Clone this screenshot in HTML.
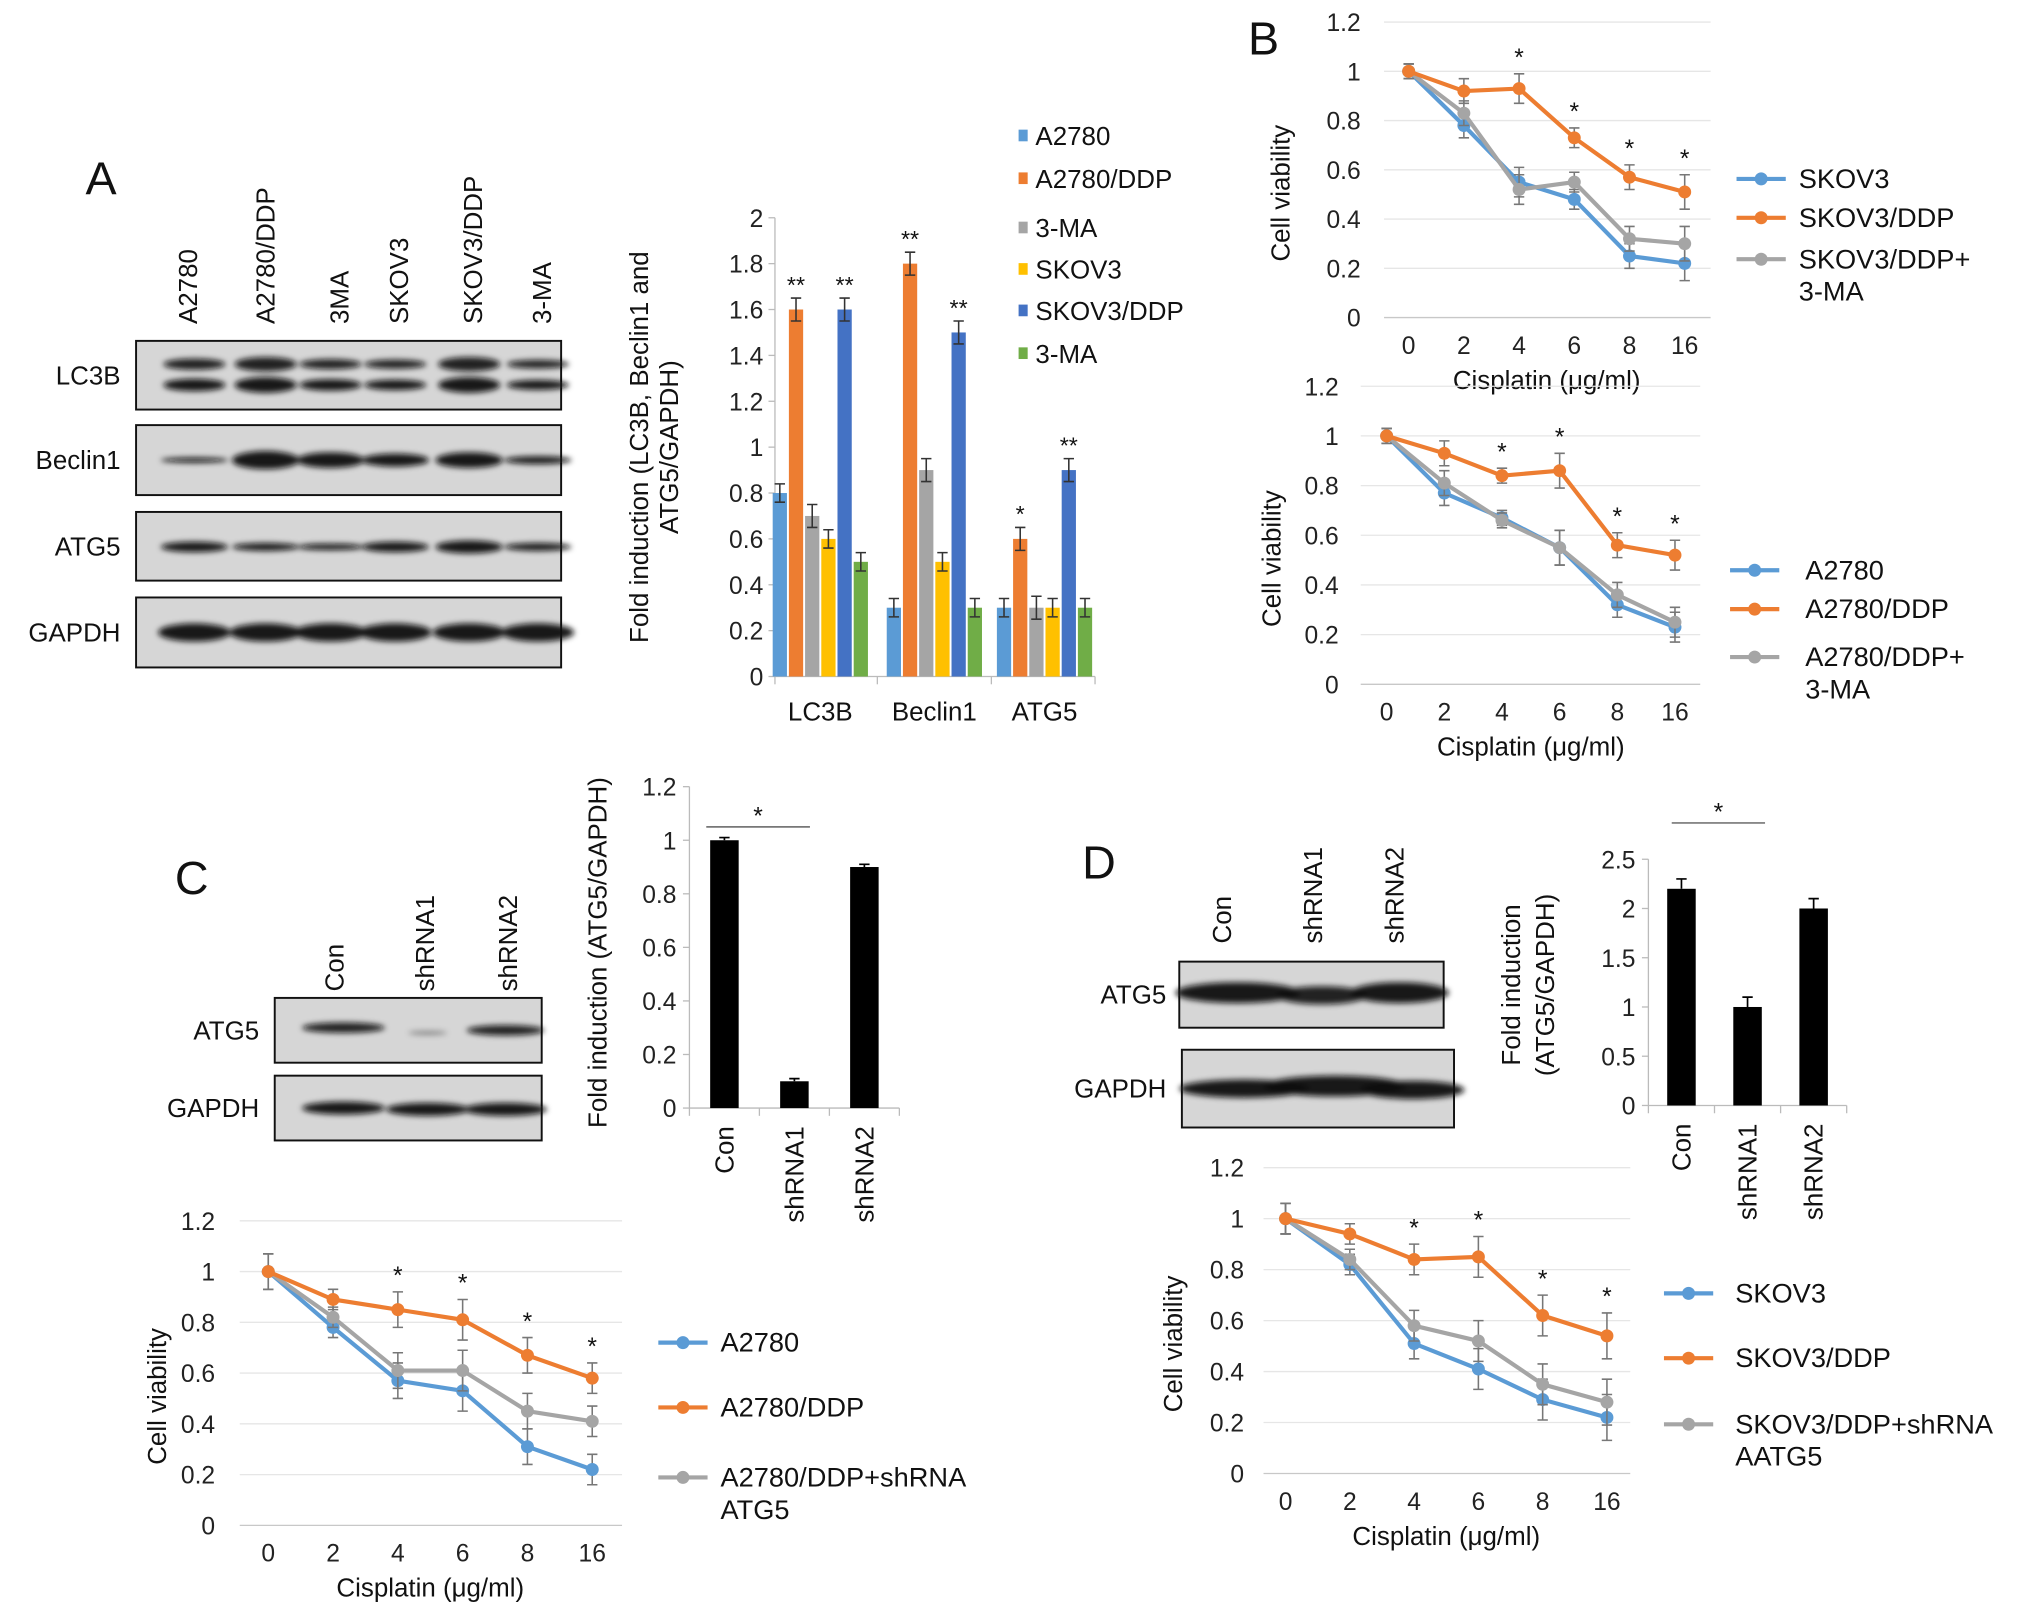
<!DOCTYPE html>
<html><head><meta charset="utf-8"><style>
html,body{margin:0;padding:0;background:#fff}
svg{display:block;font-family:"Liberation Sans",sans-serif}
</style></head><body>
<svg id="fig" width="2032" height="1620" viewBox="0 0 1568 1250" xmlns="http://www.w3.org/2000/svg">
<defs>
<filter id="blur2" x="-20%" y="-50%" width="140%" height="200%"><feGaussianBlur stdDeviation="2.2"/></filter>
</defs>
<g id="static"></g>
<g id="charts"></g>
</svg>
<script>
// ---------- Panel A bar chart data ----------
const aCategories = ["LC3B","Beclin1","ATG5"];
const aSeriesNames = ["A2780","A2780/DDP","3-MA","SKOV3","SKOV3/DDP","3-MA"];
const aA2780 = [0.8,0.3,0.3];
const aA2780DDP = [1.6,1.8,0.6];
const a3MA1 = [0.7,0.9,0.3];
const aSKOV3 = [0.6,0.5,0.3];
const aSKOV3DDP = [1.6,1.5,0.9];
const a3MA2 = [0.5,0.3,0.3];
const aErr = [0.04,0.05,0.05,0.04,0.05,0.04];
const aStars = [["","**","","","**",""],["","**","","","**",""],["","*","","","**",""]];
const aTicks = [0,0.2,0.4,0.6,0.8,1,1.2,1.4,1.6,1.8,2];
const aTickLabels = ["0","0.2","0.4","0.6","0.8","1","1.2","1.4","1.6","1.8","2"];
// ---------- Line chart data ----------
const doseLabels = ["0","2","4","6","8","16"];
const lineTicks = [0,0.2,0.4,0.6,0.8,1,1.2];
const lineTickLabels = ["0","0.2","0.4","0.6","0.8","1","1.2"];
const bTopSKOV3 = [1,0.78,0.55,0.48,0.25,0.22];
const bTopDDP = [1,0.92,0.93,0.73,0.57,0.51];
const bTop3MA = [1,0.83,0.52,0.55,0.32,0.30];
const bTopErr = [0.03,0.05,0.06,0.04,0.05,0.07];
const bTopStars = ["","","*","*","*","*"];
const bBotA2780 = [1,0.77,0.67,0.55,0.32,0.23];
const bBotDDP = [1,0.93,0.84,0.86,0.56,0.52];
const bBot3MA = [1,0.81,0.66,0.55,0.36,0.25];
const bBotErr = [0.03,0.05,0.03,0.07,0.05,0.06];
const bBotStars = ["","","*","*","*","*"];
const cA2780 = [1,0.78,0.57,0.53,0.31,0.22];
const cDDP = [1,0.89,0.85,0.81,0.67,0.58];
const cSh = [1,0.82,0.61,0.61,0.45,0.41];
const cErr = [0.07,0.04,0.07,0.08,0.07,0.06];
const cStars = ["","","*","*","*","*"];
const dSKOV3 = [1,0.82,0.51,0.41,0.29,0.22];
const dDDP = [1,0.94,0.84,0.85,0.62,0.54];
const dSh = [1,0.84,0.58,0.52,0.35,0.28];
const dErr = [0.06,0.04,0.06,0.08,0.08,0.09];
const dStars = ["","","*","*","*","*"];
// ---------- Knockdown bar data ----------
const kdCategories = ["Con","shRNA1","shRNA2"];
const cBarValues = [1,0.1,0.9];
const cBarErr = [0.01,0.01,0.01];
const cBarTicks = [0,0.2,0.4,0.6,0.8,1,1.2];
const cBarTickLabels = ["0","0.2","0.4","0.6","0.8","1","1.2"];
const dBarValues = [2.2,1.0,2.0];
const dBarErr = [0.1,0.1,0.1];
const dBarTicks = [0,0.5,1,1.5,2,2.5];
const dBarTickLabels = ["0","0.5","1","1.5","2","2.5"];

const NS="http://www.w3.org/2000/svg";
const root=document.getElementById('charts');
const stat=document.getElementById('static');
function mk(tag,attrs,parent,text){const e=document.createElementNS(NS,tag);for(const k in attrs)e.setAttribute(k,attrs[k]);if(text!==undefined)e.textContent=text;(parent||root).appendChild(e);return e;}
function grp(name,parent){const g=mk('g',{},parent);


return g;}

// ---------- Static: panel letters ----------
[["A",78,150],["B",975,42],["C",148,690],["D",848,678]].forEach(l=>{
 const t=mk('text',{x:l[1],y:l[2],'font-size':36,'text-anchor':'middle',fill:'#111'},stat,l[0]);
 
 
});

// ---------- Blots ----------
function blot(name,label,x,y,w,h,bands,labelX){
 const g=grp(name,stat);
 mk('rect',{x:x,y:y,width:w,height:h,fill:'#d6d6d6',stroke:'#111','stroke-width':1.5},g);
 const inner=mk('g',{filter:'url(#blur2)'},g);
 bands.forEach(b=>mk('ellipse',{cx:b[0],cy:b[1],rx:b[2],ry:b[3],fill:'#111','fill-opacity':b[4]},inner));
 const t=mk('text',{x:labelX,y:y+h/2+7,'font-size':20,'text-anchor':'end',fill:'#111'},g,label);
 
 
}
function colLabels(name,labels,xs,bottom){
 const g=grp(name,stat);
 labels.forEach((l,i)=>{const t=mk('text',{x:0,y:0,transform:`translate(${xs[i]+7},${bottom}) rotate(-90)`,'font-size':20,fill:'#111'},g,l);
 
 });
}
colLabels('panel-a-lane-labels',["A2780","A2780/DDP","3MA","SKOV3","SKOV3/DDP","3-MA"],[145,205,262,308,365,418],250);
const laneA=[150,205,255,305,362,415];
blot('blot-a-lc3b','LC3B',105,263,328,53,laneA.flatMap((c,i)=>{const s=[0.7,1,0.6,0.5,1,0.45][i];return [[c,281,24,4*s+1.5,0.9],[c,297,24,4*s+2,0.95]];}),93);
blot('blot-a-beclin1','Beclin1',105,328,328,54,laneA.map((c,i)=>[c,355,26,[2,7,6,5,6,3][i],0.95]),93);
blot('blot-a-atg5','ATG5',105,395,328,53,laneA.map((c,i)=>[c,422,26,[4,3,2.5,4,5,3][i],0.95]),93);
blot('blot-a-gapdh','GAPDH',105,461,328,54,laneA.map((c,i)=>[c,488,28,7,0.95]),93);

colLabels('panel-c-lane-labels',["Con","shRNA1","shRNA2"],[258,328,392],765);
blot('blot-c-atg5','ATG5',212,770,206,50,[[265,793,32,4,0.9],[330,797,15,1.5,0.4],[390,795,30,4,0.9]],200);
blot('blot-c-gapdh','GAPDH',212,830,206,50,[[265,855,32,5,0.95],[330,856,32,5,0.95],[390,856,32,5,0.95]],200);

colLabels('panel-d-lane-labels',["Con","shRNA1","shRNA2"],[943,1013,1076],728);
blot('blot-d-atg5','ATG5',910,742,204,51,[[955,766,48,8,0.95],[1020,768,35,7,0.9],[1080,766,38,8,0.95]],900);
blot('blot-d-gapdh','GAPDH',912,810,210,60,[[960,840,50,7,0.95],[1030,838,55,8,0.95],[1090,841,40,7,0.95]],900);

// ---------- Panel A bar chart ----------
(function(){
 const g=grp('panel-a-bar-chart');
 const x0=598,yb=522,yt=168,ymax=2;
 const Y=v=>yb-(v/ymax)*(yb-yt);
 const centers=[633,721,806];
 const X=(gi,si)=>centers[gi]+(si-2.5)*12.5;
 const colors=["#5b9bd5","#ed7d31","#a5a5a5","#ffc000","#4472c4","#70ad47"];
 const series=[aA2780,aA2780DDP,a3MA1,aSKOV3,aSKOV3DDP,a3MA2];
 mk('line',{x1:x0,y1:yt,x2:x0,y2:yb,stroke:'#bbb','stroke-width':1},g);
 mk('line',{x1:x0,y1:yb,x2:845,y2:yb,stroke:'#bbb','stroke-width':1},g);
 [x0,677,765,845].forEach(x=>mk('line',{x1:x,y1:yb,x2:x,y2:yb+6,stroke:'#bbb'},g));
 aTicks.forEach((t,i)=>{mk('line',{x1:x0-5,y1:Y(t),x2:x0,y2:Y(t),stroke:'#bbb'},g);
  const tx=mk('text',{x:x0-9,y:Y(t)+7,'font-size':19,'text-anchor':'end',fill:'#222'},g,aTickLabels[i]);
  
  });
 aCategories.forEach((c,gi)=>{
  const t=mk('text',{x:centers[gi],y:556,'font-size':20,'text-anchor':'middle',fill:'#111'},g,c);
  
  
  series.forEach((s,si)=>{
   const x=X(gi,si),v=s[gi];
   const r=mk('rect',{x:x-5.5,y:Y(v),width:11,height:yb-Y(v),fill:colors[si]},g);
   
   
   const e=aErr[si];
   mk('path',{d:`M${x},${Y(v+e)}V${Y(v-e)}M${x-4},${Y(v+e)}h8M${x-4},${Y(v-e)}h8`,stroke:'#333','stroke-width':1.2,fill:'none'},g);
   const st=aStars[gi][si];
   if(st){const s2=mk('text',{x:x,y:Y(v+e)-4,'font-size':18,'text-anchor':'middle',fill:'#111'},g,st);
    
    }
  });
 });
 const yl=mk('text',{transform:'translate(500,345) rotate(-90)','font-size':20,'text-anchor':'middle',fill:'#111'},g,'Fold induction (LC3B, Beclin1 and');
 
 
 mk('text',{transform:'translate(523,345) rotate(-90)','font-size':20,'text-anchor':'middle',fill:'#111'},g,'ATG5/GAPDH)');
 const lg=grp('panel-a-legend',g);
 aSeriesNames.forEach((n,i)=>{const y=[105,138,176,208,240,273][i];
  mk('rect',{x:786,y:y-5,width:7,height:9,fill:colors[i]},lg);
  const t=mk('text',{x:799,y:y+7,'font-size':20,fill:'#111'},lg,n);
  
  });
})();

// ---------- Line charts ----------
function lineChart(cfg){
 const g=grp(cfg.name);
 const Y=v=>cfg.y0-(v/1.2)*(cfg.y0-cfg.y12);
 const X=i=>cfg.xs0+i*cfg.dx;
 lineTicks.forEach((t,i)=>{
  mk('line',{x1:cfg.gl,y1:Y(t),x2:cfg.gr,y2:Y(t),stroke:t===0?'#c8c8c8':'#e6e6e6','stroke-width':1},g);
  const tx=mk('text',{x:cfg.tickX,y:Y(t)+7,'font-size':19,'text-anchor':'end',fill:'#222'},g,lineTickLabels[i]);
  
  
 });
 doseLabels.forEach((d,i)=>{const t=mk('text',{x:X(i),y:cfg.y0+28,'font-size':19,'text-anchor':'middle',fill:'#222'},g,d);
  
  });
 const xt=mk('text',{x:(X(0)+X(5))/2,y:cfg.y0+55,'font-size':20,'text-anchor':'middle',fill:'#111'},g,'Cisplatin (\u03bcg/ml)');
 
 
 const yt=mk('text',{transform:`translate(${cfg.ylabX},${(cfg.y0+cfg.y12)/2+18}) rotate(-90)`,'font-size':20,'text-anchor':'middle',fill:'#111'},g,'Cell viability');
 
 
 const colors=["#5b9bd5","#ed7d31","#a5a5a5"];
 const order=[0,2,1];
 order.forEach(si=>{
  const s=cfg.series[si];
  const sg=grp('series-'+cfg.names[si].toLowerCase().replace(/[^a-z0-9]+/g,'-'),g);
  mk('polyline',{points:s.map((v,i)=>X(i)+','+Y(v)).join(' '),fill:'none',stroke:colors[si],'stroke-width':3.2},sg);
  s.forEach((v,i)=>{const e=cfg.err[i];
   mk('path',{d:`M${X(i)},${Y(v+e)}V${Y(v-e)}M${X(i)-4},${Y(v+e)}h8M${X(i)-4},${Y(v-e)}h8`,stroke:'#777','stroke-width':1.2,fill:'none'},sg);
   const c=mk('circle',{cx:X(i),cy:Y(v),r:5,fill:colors[si]},sg);
   
   
  });
 });
 cfg.stars.forEach((st,i)=>{if(!st)return;const top=cfg.series[1][i]+cfg.err[i];
  const t=mk('text',{x:X(i),y:Y(top)-6,'font-size':19,'text-anchor':'middle',fill:'#111'},g,st);
  
  });
 const lg=grp(cfg.name+'-legend',g);
 cfg.names.forEach((n,i)=>{const y=cfg.legY[i];
  mk('line',{x1:cfg.legX,y1:y,x2:cfg.legX+38,y2:y,stroke:colors[i],'stroke-width':3.2},lg);
  mk('circle',{cx:cfg.legX+19,cy:y,r:5,fill:colors[i]},lg);
  const lines=n.split('|');
  lines.forEach((ln,k)=>{const t=mk('text',{x:cfg.legX+cfg.legTx,y:y+7+k*25,'font-size':21,fill:'#111'},lg,ln);
   
   });
 });
}
lineChart({name:'panel-b-top-line-chart',y0:245,y12:17,xs0:1087,dx:42.6,gl:1068,gr:1320,tickX:1050,ylabX:995,
 series:[bTopSKOV3,bTopDDP,bTop3MA],err:bTopErr,stars:bTopStars,names:["SKOV3","SKOV3/DDP","SKOV3/DDP+|3-MA"],legX:1340,legTx:48,legY:[138,168,200]});
lineChart({name:'panel-b-bottom-line-chart',y0:528,y12:298,xs0:1070,dx:44.5,gl:1050,gr:1312,tickX:1033,ylabX:988,
 series:[bBotA2780,bBotDDP,bBot3MA],err:bBotErr,stars:bBotStars,names:["A2780","A2780/DDP","A2780/DDP+|3-MA"],legX:1335,legTx:58,legY:[440,470,507]});
lineChart({name:'panel-c-line-chart',y0:1177,y12:942,xs0:207,dx:50,gl:185,gr:480,tickX:166,ylabX:128,
 series:[cA2780,cDDP,cSh],err:cErr,stars:cStars,names:["A2780","A2780/DDP","A2780/DDP+shRNA|ATG5"],legX:508,legTx:48,legY:[1036,1086,1140]});
lineChart({name:'panel-d-line-chart',y0:1137,y12:901,xs0:992,dx:49.6,gl:975,gr:1258,tickX:960,ylabX:912,
 series:[dSKOV3,dDDP,dSh],err:dErr,stars:dStars,names:["SKOV3","SKOV3/DDP","SKOV3/DDP+shRNA|AATG5"],legX:1284,legTx:55,legY:[998,1048,1099]});

// ---------- Knockdown bar charts ----------
function kdBar(cfg){
 const g=grp(cfg.name);
 const Y=v=>cfg.y0-(v/cfg.max)*(cfg.y0-cfg.ytop);
 mk('line',{x1:cfg.ax,y1:cfg.ytop,x2:cfg.ax,y2:cfg.y0,stroke:'#bbb'},g);
 mk('line',{x1:cfg.ax,y1:cfg.y0,x2:cfg.ax+3*cfg.dx,y2:cfg.y0,stroke:'#bbb'},g);
 for(let k=0;k<=3;k++)mk('line',{x1:cfg.ax+k*cfg.dx,y1:cfg.y0,x2:cfg.ax+k*cfg.dx,y2:cfg.y0+6,stroke:'#bbb'},g);
 cfg.ticks.forEach((t,i)=>{mk('line',{x1:cfg.ax-5,y1:Y(t),x2:cfg.ax,y2:Y(t),stroke:'#bbb'},g);
  const tx=mk('text',{x:cfg.ax-10,y:Y(t)+7,'font-size':19,'text-anchor':'end',fill:'#222'},g,cfg.tickLabels[i]);
  
  });
 kdCategories.forEach((c,i)=>{const x=cfg.ax+(i+0.5)*cfg.dx,v=cfg.values[i],e=cfg.err[i];
  const r=mk('rect',{x:x-11,y:Y(v),width:22,height:cfg.y0-Y(v),fill:'#000'},g);
  
  
  mk('path',{d:`M${x},${Y(v+e)}V${Y(v)}M${x-4},${Y(v+e)}h8`,stroke:'#000','stroke-width':1.3,fill:'none'},g);
  const t=mk('text',{transform:`translate(${x+7},${cfg.y0+14}) rotate(-90)`,'font-size':20,'text-anchor':'end',fill:'#111'},g,c);
  
  });
 mk('line',{x1:cfg.sig[0],y1:cfg.sig[2],x2:cfg.sig[1],y2:cfg.sig[2],stroke:'#777','stroke-width':1.3},g);
 const st=mk('text',{x:(cfg.sig[0]+cfg.sig[1])/2,y:cfg.sig[2]-2,'font-size':19,'text-anchor':'middle',fill:'#111'},g,'*');
 
 
 cfg.ylab.forEach((l,k)=>{const t=mk('text',{transform:`translate(${cfg.ylabX+k*26},${cfg.ylabY}) rotate(-90)`,'font-size':20,'text-anchor':'middle',fill:'#111'},g,l);
  
  });
}
kdBar({name:'panel-c-bar-chart',ax:532,dx:54,y0:855,ytop:607,max:1.2,ticks:cBarTicks,tickLabels:cBarTickLabels,values:cBarValues,err:cBarErr,
 sig:[545,625,638],ylab:['Fold induction (ATG5/GAPDH)'],ylabX:468,ylabY:735});
kdBar({name:'panel-d-bar-chart',ax:1272,dx:51,y0:853,ytop:663,max:2.5,ticks:dBarTicks,tickLabels:dBarTickLabels,values:dBarValues,err:dBarErr,
 sig:[1290,1362,635],ylab:['Fold induction','(ATG5/GAPDH)'],ylabX:1173,ylabY:760});
</script>
</body></html>
